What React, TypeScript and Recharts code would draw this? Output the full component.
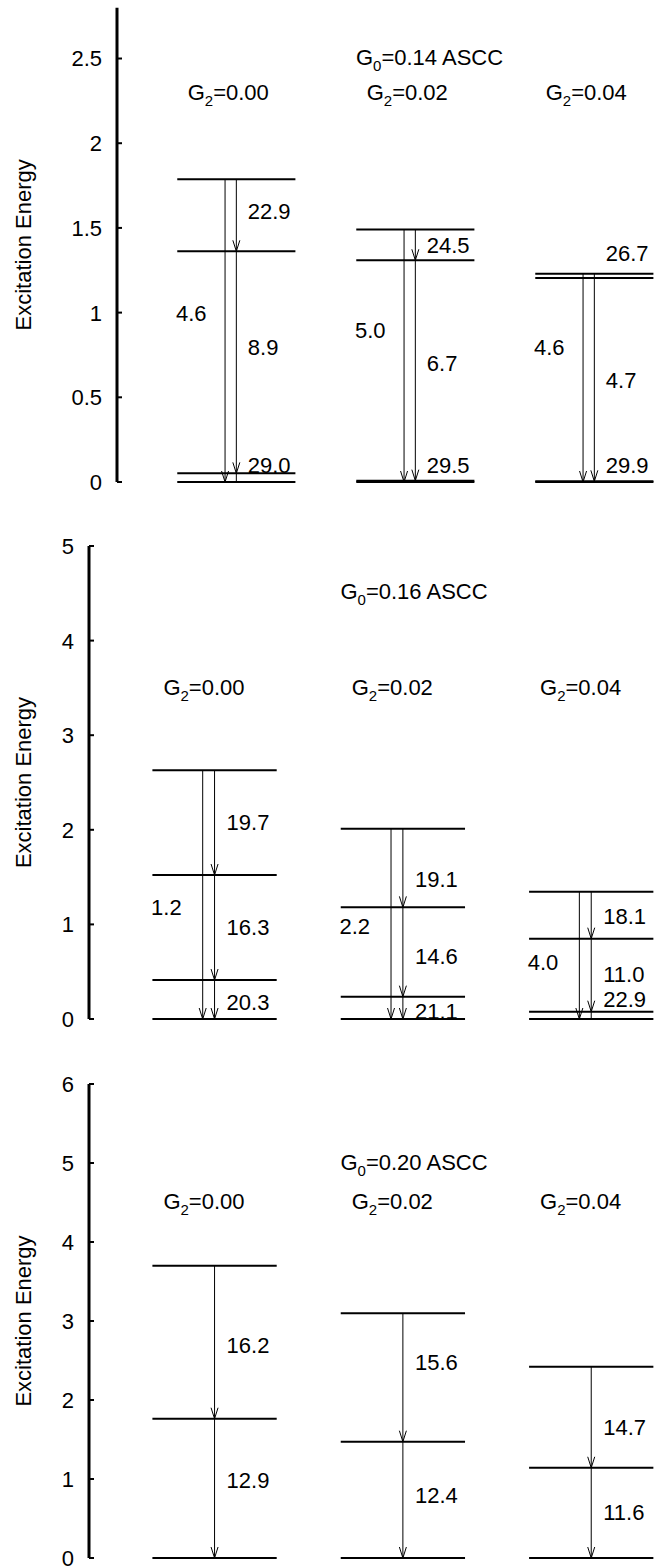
import React from 'react'
import { ComposedChart, XAxis, YAxis, ReferenceLine, ReferenceDot } from 'recharts'

const FONT = '"Liberation Sans", Arial, Helvetica, sans-serif'
const FS = 22

interface Transition {
  col: number
  lane: 'L' | 'R'
  from: number
  to: number
  label: string
  labelAt: number
}

const g2Labels = ['0.00', '0.02', '0.04']

// G0 = 0.14
const g014Ticks = [0, 0.5, 1, 1.5, 2, 2.5]
const g014Levels = [
  [0, 0.051, 1.362, 1.787],
  [0, 0.008, 1.309, 1.49],
  [0, 0.004, 1.205, 1.23],
]
const g014Transitions: Transition[] = [
  { col: 0, lane: 'L', from: 1.787, to: 0, label: '4.6', labelAt: 0.998 },
  { col: 0, lane: 'R', from: 1.787, to: 1.362, label: '22.9', labelAt: 1.6 },
  { col: 0, lane: 'R', from: 1.362, to: 0.051, label: '8.9', labelAt: 0.797 },
  { col: 0, lane: 'R', from: 0.051, to: 0, label: '29.0', labelAt: 0.1 },
  { col: 1, lane: 'L', from: 1.49, to: 0, label: '5.0', labelAt: 0.897 },
  { col: 1, lane: 'R', from: 1.49, to: 1.309, label: '24.5', labelAt: 1.399 },
  { col: 1, lane: 'R', from: 1.309, to: 0.008, label: '6.7', labelAt: 0.702 },
  { col: 1, lane: 'R', from: 0.008, to: 0, label: '29.5', labelAt: 0.1 },
  { col: 2, lane: 'L', from: 1.23, to: 0, label: '4.6', labelAt: 0.797 },
  { col: 2, lane: 'R', from: 1.23, to: 1.205, label: '26.7', labelAt: 1.352 },
  { col: 2, lane: 'R', from: 1.205, to: 0.004, label: '4.7', labelAt: 0.602 },
  { col: 2, lane: 'R', from: 0.004, to: 0, label: '29.9', labelAt: 0.1 },
]

// G0 = 0.16
const g016Ticks = [0, 1, 2, 3, 4, 5]
const g016Levels = [
  [0, 0.412, 1.522, 2.63],
  [0, 0.236, 1.18, 2.01],
  [0, 0.077, 0.849, 1.346],
]
const g016Transitions: Transition[] = [
  { col: 0, lane: 'L', from: 2.63, to: 0, label: '1.2', labelAt: 1.18 },
  { col: 0, lane: 'R', from: 2.63, to: 1.522, label: '19.7', labelAt: 2.086 },
  { col: 0, lane: 'R', from: 1.522, to: 0.412, label: '16.3', labelAt: 0.976 },
  { col: 0, lane: 'R', from: 0.412, to: 0, label: '20.3', labelAt: 0.183 },
  { col: 1, lane: 'L', from: 2.01, to: 0, label: '2.2', labelAt: 0.986 },
  { col: 1, lane: 'R', from: 2.01, to: 1.18, label: '19.1', labelAt: 1.48 },
  { col: 1, lane: 'R', from: 1.18, to: 0.236, label: '14.6', labelAt: 0.669 },
  { col: 1, lane: 'R', from: 0.236, to: 0, label: '21.1', labelAt: 0.085 },
  { col: 2, lane: 'L', from: 1.346, to: 0, label: '4.0', labelAt: 0.603 },
  { col: 2, lane: 'R', from: 1.346, to: 0.849, label: '18.1', labelAt: 1.092 },
  { col: 2, lane: 'R', from: 0.849, to: 0.077, label: '11.0', labelAt: 0.476 },
  { col: 2, lane: 'R', from: 0.077, to: 0, label: '22.9', labelAt: 0.215 },
]

// G0 = 0.20
const g020Ticks = [0, 1, 2, 3, 4, 5, 6]
const g020Levels = [
  [0, 1.763, 3.7],
  [0, 1.472, 3.097],
  [0, 1.142, 2.42],
]
const g020Transitions: Transition[] = [
  { col: 0, lane: 'R', from: 3.7, to: 1.763, label: '16.2', labelAt: 2.696 },
  { col: 0, lane: 'R', from: 1.763, to: 0, label: '12.9', labelAt: 0.987 },
  { col: 1, lane: 'R', from: 3.097, to: 1.472, label: '15.6', labelAt: 2.485 },
  { col: 1, lane: 'R', from: 1.472, to: 0, label: '12.4', labelAt: 0.797 },
  { col: 2, lane: 'R', from: 2.42, to: 1.142, label: '14.7', labelAt: 1.662 },
  { col: 2, lane: 'R', from: 1.142, to: 0, label: '11.6', labelAt: 0.586 },
]

// column layout in x-axis units (domain 0..3)
const COL_CENTER = 2 / 3
const LEVEL_HALF = 0.33
const LEFT_LANE = 0.063
const G2_DX = 0.395
const TITLE_X = 1.335

const AxisTick = (props: any) => {
  const { x, y, payload } = props
  return (
    <g>
      <line x1={x} x2={x + 5} y1={y} y2={y} stroke="#000" strokeWidth={2} />
      <text x={x - 15} y={y} dy="0.36em" textAnchor="end" fontSize={FS} fontFamily={FONT} fill="#000">
        {payload.value}
      </text>
    </g>
  )
}

const arrowShape = (p: any) => {
  const { x1, y1, x2, y2 } = p
  const long = Math.abs(y2 - y1) > 14
  return (
    <g>
      <line x1={x1} y1={y1} x2={x2} y2={y2} stroke="#000" strokeWidth={1} />
      {long && (
        <polyline
          points={`${x2 - 3.5},${y2 - 11} ${x2},${y2} ${x2 + 3.5},${y2 - 11}`}
          fill="none"
          stroke="#000"
          strokeWidth={1}
        />
      )}
    </g>
  )
}

function subText(base: string, sub: string, rest: string) {
  return (p: any) => (
    <text x={p.cx} y={p.cy} dy="0.36em" fontSize={FS} fontFamily={FONT} fill="#000">
      {base}
      <tspan dy={6} fontSize={15}>{sub}</tspan>
      <tspan dy={-6}>{rest}</tspan>
    </text>
  )
}

function plainText(s: string) {
  return (p: any) => (
    <text x={p.cx} y={p.cy} dy="0.36em" fontSize={FS} fontFamily={FONT} fill="#000">
      {s}
    </text>
  )
}

interface PanelProps {
  g0: string
  yMax: number
  ticks: number[]
  levels: number[][]
  transitions: Transition[]
  height: number
  margin: { top: number; bottom: number }
  axisX: number
  titleY: number
  g2Y: number
}

function LevelPanel({ g0, yMax, ticks, levels, transitions, height, margin, axisX, titleY, g2Y }: PanelProps) {
  return (
    <ComposedChart width={654} height={height} margin={{ top: margin.top, right: 0, bottom: margin.bottom, left: 0 }}>
      <XAxis type="number" dataKey="x" domain={[0, 3]} hide allowDataOverflow />
      <YAxis
        type="number"
        domain={[0, yMax]}
        ticks={ticks}
        allowDataOverflow
        width={axisX}
        tickSize={0}
        tickMargin={0}
        tickLine={false}
        axisLine={{ stroke: '#000', strokeWidth: 3 }}
        tick={<AxisTick />}
        label={{
          content: (p: any) => {
            const vb = p.viewBox
            const cy = vb.y + vb.height / 2
            return (
              <text
                x={23}
                y={cy}
                dy="0.36em"
                transform={`rotate(-90 23 ${cy})`}
                textAnchor="middle"
                fontSize={FS}
                fontFamily={FONT}
                fill="#000"
              >
                Excitation Energy
              </text>
            )
          },
        }}
      />
      {transitions.map((t, i) => {
        const x = t.col + COL_CENTER - (t.lane === 'L' ? LEFT_LANE : 0)
        return (
          <ReferenceLine
            key={`a${i}`}
            segment={[{ x, y: t.from }, { x, y: t.to }]}
            ifOverflow="visible"
            shape={arrowShape}
          />
        )
      })}
      {levels.flatMap((col, ci) =>
        col.map((e, li) => (
          <ReferenceLine
            key={`l${ci}-${li}`}
            segment={[
              { x: ci + COL_CENTER - LEVEL_HALF, y: e },
              { x: ci + COL_CENTER + LEVEL_HALF, y: e },
            ]}
            stroke="#000"
            strokeWidth={2}
            ifOverflow="visible"
          />
        )),
      )}
      {transitions.map((t, i) => {
        const x = t.col + COL_CENTER + (t.lane === 'L' ? -0.337 : 0.064)
        return (
          <ReferenceDot key={`t${i}`} x={x} y={t.labelAt} r={0} ifOverflow="visible" shape={plainText(t.label)} />
        )
      })}
      <ReferenceDot x={TITLE_X} y={titleY} r={0} ifOverflow="visible" shape={subText('G', '0', `=${g0} ASCC`)} />
      {g2Labels.map((g, i) => (
        <ReferenceDot key={`g${i}`} x={i + G2_DX} y={g2Y} r={0} ifOverflow="visible" shape={subText('G', '2', `=${g}`)} />
      ))}
    </ComposedChart>
  )
}

export default function App() {
  return (
    <div style={{ position: 'absolute', left: 0, top: 0, width: 654, background: '#fff' }}>
      <LevelPanel
        g0="0.14"
        yMax={2.8}
        ticks={g014Ticks}
        levels={g014Levels}
        transitions={g014Transitions}
        height={500}
        margin={{ top: 7.7, bottom: 18 }}
        axisX={117}
        titleY={2.507}
        g2Y={2.304}
      />
      <LevelPanel
        g0="0.16"
        yMax={5}
        ticks={g016Ticks}
        levels={g016Levels}
        transitions={g016Transitions}
        height={540}
        margin={{ top: 46, bottom: 21 }}
        axisX={89}
        titleY={4.524}
        g2Y={3.513}
      />
      <LevelPanel
        g0="0.20"
        yMax={6}
        ticks={g020Ticks}
        levels={g020Levels}
        transitions={g020Transitions}
        height={527}
        margin={{ top: 44, bottom: 9 }}
        axisX={89}
        titleY={5.017}
        g2Y={4.515}
      />
    </div>
  )
}
